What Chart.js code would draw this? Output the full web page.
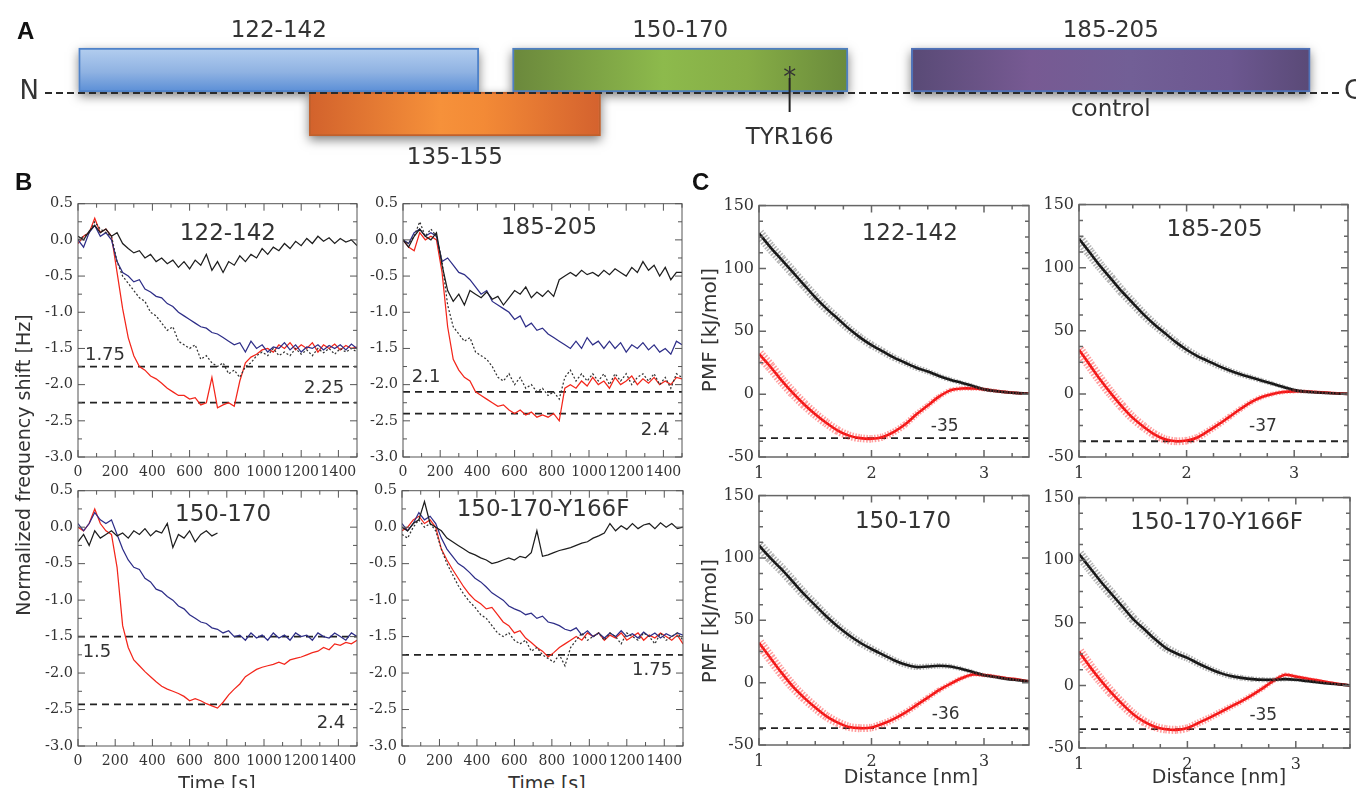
<!DOCTYPE html>
<html>
<head>
<meta charset="utf-8">
<title>Peptide segments: QCM traces and PMF profiles</title>
<script src="https://cdn.jsdelivr.net/npm/chart.js@4.4.1/dist/chart.umd.min.js"></script>
<style>
  body { margin: 0; background: #fff; }
  #fig { position: relative; width: 1356px; height: 788px; overflow: hidden; background: #fff;
         font-family: "DejaVu Sans", sans-serif; color: #333; }
  #fig canvas { position: absolute; }
  .lbl { position: absolute; white-space: nowrap; line-height: 1; z-index: 2; }
  .panel { font-family: "Liberation Sans", Arial, sans-serif; font-weight: bold; font-size: 24px; color: #111; }
  .ctr { transform: translate(-50%, -50%); }
  .rot { transform: translate(-50%, -50%) rotate(-90deg); }
</style>
</head>
<body>
<div id="fig">
  <div class="lbl panel" style="left:17px;top:19px">A</div>
  <div class="lbl panel" style="left:15px;top:170px">B</div>
  <div class="lbl panel" style="left:692px;top:170px">C</div>
  <div class="lbl rot" style="left:23px;top:465px;font-size:19px">Normalized frequency shift [Hz]</div>
  <div class="lbl rot" style="left:709px;top:330px;font-size:20px">PMF [kJ/mol]</div>
  <div class="lbl rot" style="left:709px;top:621px;font-size:20px">PMF [kJ/mol]</div>
  <div class="lbl ctr" style="left:217px;top:783px;font-size:19px">Time [s]</div>
  <div class="lbl ctr" style="left:547px;top:783px;font-size:19px">Time [s]</div>
  <div class="lbl ctr" style="left:911px;top:776px;font-size:19px">Distance [nm]</div>
  <div class="lbl ctr" style="left:1219px;top:776px;font-size:19px">Distance [nm]</div>
</div>
<script>
// ---------- panel A: peptide segments on the sequence track (schematic, % of track) ----------
const segNames = ['122-142', '135-155', '150-170', '185-205'];
const segRow = ['top', 'bottom', 'top', 'top'];
const segStart = [2.6, 20.4, 36.1, 66.9];
const segEnd = [33.5, 42.9, 62.0, 97.7];
const segNote = ['', '', '', 'control'];
const tyrPos = 57.5;
const rows = ['top', 'bottom'];

// ---------- panel B: normalized frequency shift [Hz] vs time [s] ----------
const tB = [0, 30, 60, 90, 120, 150, 180, 210, 240, 270, 300, 330, 360, 390, 420, 450, 480, 510, 540, 570,
  600, 630, 660, 690, 720, 750, 780, 810, 840, 870, 900, 930, 960, 990, 1020, 1050, 1080, 1110, 1140, 1170,
  1200, 1230, 1260, 1290, 1320, 1350, 1380, 1410, 1440, 1470, 1500];

// 122-142
const b1Black = [0.05, 0.0, 0.12, 0.2, 0.1, 0.15, 0.05, 0.1, -0.05, -0.12,
  -0.18, -0.15, -0.25, -0.2, -0.3, -0.25, -0.33, -0.28, -0.38, -0.3,
  -0.4, -0.28, -0.35, -0.2, -0.42, -0.3, -0.45, -0.3, -0.35, -0.22,
  -0.3, -0.2, -0.25, -0.12, -0.2, -0.1, -0.15, -0.05, -0.12, -0.02,
  -0.08, 0.02, -0.05, 0.05, -0.02, 0.03, -0.05, 0.02, -0.03, 0.0,
  -0.08];
const b1Blue = [0.0, -0.1, 0.1, 0.2, 0.05, 0.1, 0.0, -0.3, -0.45, -0.5,
  -0.58, -0.55, -0.68, -0.72, -0.78, -0.8, -0.88, -0.92, -1.0, -1.05,
  -1.1, -1.15, -1.2, -1.22, -1.28, -1.3, -1.35, -1.4, -1.45, -1.42,
  -1.55, -1.4, -1.5, -1.45, -1.55, -1.48, -1.5, -1.42, -1.52, -1.45,
  -1.55, -1.48, -1.5, -1.45, -1.52, -1.46, -1.5, -1.45, -1.52, -1.44,
  -1.5];
const b1Red = [-0.05, 0.05, 0.1, 0.3, 0.1, 0.15, 0.05, -0.45, -0.95, -1.35,
  -1.6, -1.75, -1.8, -1.88, -1.92, -1.98, -2.05, -2.1, -2.15, -2.15,
  -2.2, -2.18, -2.28, -2.25, -1.9, -2.32, -2.28, -2.25, -2.3, -1.95,
  -1.7, -1.62, -1.58, -1.52, -1.5, -1.55, -1.45, -1.5, -1.42, -1.52,
  -1.45, -1.5, -1.42, -1.55, -1.45, -1.5, -1.44, -1.52, -1.46, -1.5,
  -1.48];
const b1Dots = [0.0, 0.05, 0.1, 0.25, 0.15, 0.1, 0.05, -0.3, -0.5, -0.6,
  -0.7, -0.8, -0.85, -1.0, -1.05, -1.15, -1.25, -1.2, -1.4, -1.45,
  -1.5, -1.45, -1.65, -1.6, -1.7, -1.75, -1.7, -1.85, -1.8, -1.9,
  -1.75, -1.7, -1.6, -1.55, -1.6, -1.5, -1.6, -1.55, -1.6, -1.5,
  -1.58, -1.52, -1.6, -1.5, -1.56, -1.5, -1.58, -1.5, -1.55, -1.5,
  -1.55];
const b1Levels = [-1.75, -2.25];

// 185-205
const b2Black = [0.0, -0.1, 0.05, 0.15, 0.05, 0.0, 0.1, -0.35, -0.7, -0.85,
  -0.75, -0.9, -0.7, -0.75, -0.8, -0.72, -0.82, -0.78, -0.9, -0.8,
  -0.7, -0.75, -0.65, -0.8, -0.72, -0.78, -0.7, -0.78, -0.55, -0.5,
  -0.45, -0.5, -0.42, -0.48, -0.45, -0.5, -0.42, -0.48, -0.4, -0.45,
  -0.5, -0.38, -0.45, -0.3, -0.42, -0.35, -0.5, -0.38, -0.55, -0.45,
  -0.45];
const b2Blue = [0.0, -0.05, 0.1, 0.15, 0.05, 0.1, 0.05, -0.3, -0.25, -0.35,
  -0.45, -0.48, -0.55, -0.65, -0.75, -0.7, -0.85, -0.9, -0.95, -1.0,
  -1.1, -1.05, -1.2, -1.15, -1.25, -1.22, -1.3, -1.35, -1.4, -1.45,
  -1.5, -1.4, -1.5, -1.35, -1.45, -1.4, -1.5, -1.4, -1.5, -1.42,
  -1.55, -1.45, -1.5, -1.42, -1.52, -1.45, -1.55, -1.5, -1.58, -1.4,
  -1.45];
const b2Red = [0.0, -0.1, -0.15, 0.1, 0.0, 0.05, 0.0, -0.45, -1.2, -1.65,
  -1.8, -1.9, -1.95, -2.1, -2.15, -2.2, -2.25, -2.3, -2.28, -2.35,
  -2.4, -2.35, -2.42, -2.38, -2.45, -2.42, -2.45, -2.4, -2.5, -2.05,
  -2.0, -2.05, -1.95, -2.02, -1.9, -2.0, -1.95, -2.05, -1.9, -2.0,
  -1.95, -1.88, -2.0, -1.92, -1.98, -1.9, -2.0, -1.95, -2.0, -1.9,
  -1.92];
const b2Dots = [0.0, -0.05, 0.05, 0.25, 0.05, 0.15, 0.05, -0.3, -0.9, -1.2,
  -1.3, -1.4, -1.35, -1.55, -1.6, -1.65, -1.75, -1.9, -1.95, -1.85,
  -2.0, -1.9, -2.05, -2.0, -2.1, -2.05, -2.15, -2.1, -2.2, -1.9,
  -1.8, -1.95, -1.85, -1.95, -1.85, -1.95, -1.85, -2.0, -1.85, -1.95,
  -1.85, -2.0, -1.9, -1.85, -1.95, -1.85, -2.0, -1.9, -2.05, -1.85,
  -1.9];
const b2Levels = [-2.1, -2.4];

// 150-170 (the control trace stops at 750 s)
const b3Black = [-0.2, -0.1, -0.25, -0.05, -0.15, -0.1, -0.05, -0.12, -0.08, -0.15,
  -0.05, -0.1, -0.02, -0.12, -0.05, -0.08, 0.05, -0.28, -0.1, -0.15,
  -0.05, -0.2, -0.1, -0.05, -0.12, -0.08, null, null, null, null,
  null, null, null, null, null, null, null, null, null, null,
  null, null, null, null, null, null, null, null, null, null,
  null];
const b3Blue = [0.05, -0.05, 0.05, 0.2, 0.1, 0.05, 0.1, -0.1, -0.3, -0.45,
  -0.55, -0.58, -0.7, -0.75, -0.85, -0.88, -0.95, -1.0, -1.08, -1.12,
  -1.2, -1.25, -1.3, -1.32, -1.38, -1.4, -1.45, -1.42, -1.5, -1.48,
  -1.55, -1.45, -1.52, -1.48, -1.55, -1.45, -1.52, -1.48, -1.55, -1.45,
  -1.5, -1.48, -1.55, -1.45, -1.5, -1.52, -1.45, -1.5, -1.55, -1.45,
  -1.5];
const b3Red = [0.0, -0.05, 0.05, 0.25, 0.05, -0.05, -0.1, -0.55, -1.35, -1.65,
  -1.82, -1.9, -1.98, -2.05, -2.12, -2.18, -2.22, -2.25, -2.28, -2.32,
  -2.38, -2.35, -2.38, -2.42, -2.45, -2.48, -2.4, -2.3, -2.22, -2.15,
  -2.05, -2.0, -1.95, -1.92, -1.9, -1.88, -1.85, -1.88, -1.82, -1.8,
  -1.78, -1.75, -1.72, -1.7, -1.65, -1.68, -1.6, -1.62, -1.58, -1.6,
  -1.55];
const b3Levels = [-1.5, -2.43];

// 150-170-Y166F
const b4Black = [0.0, -0.05, 0.05, 0.1, 0.35, 0.05, 0.0, -0.05, -0.15, -0.2,
  -0.25, -0.3, -0.35, -0.38, -0.42, -0.45, -0.5, -0.48, -0.45, -0.42,
  -0.45, -0.4, -0.42, -0.35, -0.05, -0.4, -0.38, -0.35, -0.32, -0.3,
  -0.28, -0.25, -0.22, -0.2, -0.15, -0.12, -0.08, 0.05, -0.05, 0.02,
  -0.03, 0.05, -0.02, 0.03, 0.05, -0.02, 0.06, 0.0, 0.05, -0.02,
  0.0];
const b4Blue = [0.05, -0.05, 0.05, 0.2, 0.1, 0.15, 0.05, -0.15, -0.3, -0.4,
  -0.5, -0.55, -0.62, -0.7, -0.75, -0.82, -0.9, -0.95, -1.0, -1.08,
  -1.12, -1.15, -1.2, -1.18, -1.25, -1.22, -1.3, -1.32, -1.35, -1.4,
  -1.42, -1.38, -1.48, -1.42, -1.5, -1.45, -1.52, -1.45, -1.5, -1.42,
  -1.5, -1.46, -1.52, -1.44, -1.5, -1.45, -1.52, -1.46, -1.5, -1.45,
  -1.48];
const b4Red = [-0.05, 0.0, 0.1, 0.15, 0.05, 0.1, 0.0, -0.3, -0.45, -0.58,
  -0.7, -0.82, -0.92, -1.0, -1.05, -1.12, -1.1, -1.2, -1.3, -1.35,
  -1.45, -1.42, -1.52, -1.58, -1.65, -1.7, -1.78, -1.72, -1.65, -1.6,
  -1.55, -1.5, -1.55, -1.45, -1.5, -1.45, -1.55, -1.48, -1.52, -1.45,
  -1.55, -1.5, -1.45, -1.55, -1.48, -1.52, -1.45, -1.5, -1.55, -1.48,
  -1.6];
const b4Dots = [-0.1, -0.15, 0.0, 0.1, 0.0, 0.05, -0.05, -0.3, -0.5, -0.65,
  -0.8, -0.92, -1.02, -1.1, -1.2, -1.25, -1.35, -1.45, -1.5, -1.45,
  -1.55, -1.6, -1.55, -1.7, -1.65, -1.75, -1.8, -1.85, -1.75, -1.9,
  -1.65, -1.55, -1.45, -1.55, -1.5, -1.45, -1.55, -1.45, -1.5, -1.6,
  -1.45, -1.5, -1.55, -1.45, -1.5, -1.6, -1.45, -1.55, -1.5, -1.45,
  -1.55];
const b4Levels = [-1.75];

// ---------- panel C: PMF [kJ/mol] vs distance [nm] ----------
const cX = [1.0, 1.1, 1.2, 1.3, 1.4, 1.5, 1.6, 1.7, 1.8, 1.9, 2.0, 2.1, 2.2,
  2.3, 2.4, 2.5, 2.6, 2.7, 2.8, 2.9, 3.0, 3.1, 3.2, 3.3, 3.4, 3.5];
const c1Black = [128, 117, 107, 97, 87, 77, 68, 60, 52, 45, 39, 34, 29, 25, 21, 18, 14.5, 11.5, 9, 6.5, 3.8, 2.5, 1.5, 0.8, 0.3, 0];
const c1Red = [32, 22, 11, 1, -8, -16, -23, -29, -33, -35, -35.5, -34, -30, -24, -16, -9, -2, 3, 4.5, 4.5, 3.8, 2.6, 1.6, 0.9, 0.4, 0];
const c2Black = [123, 112, 101, 91, 81, 72, 63, 55, 48, 41, 35, 30, 26, 22, 18.5, 15.5, 13, 10.5, 8, 5.5, 3, 1.8, 1.2, 0.7, 0.3, 0];
const c2Red = [35, 23, 11, 0, -10, -19, -26, -32, -36, -37.5, -37, -34.5, -29.5, -24, -18, -12, -6.5, -2.5, 0, 1.5, 2, 2, 1.5, 1, 0.5, 0];
const c3Black = [110, 100, 91, 81, 71, 62, 53, 45, 38, 32, 27, 22.5, 18, 14.5, 12.5, 13, 13.5, 13, 11, 8.5, 6, 4.5, 3, 2, 1, 0];
const c3Red = [32, 20, 8, -3, -12, -20, -27, -32, -35.5, -36.5, -36, -33, -29, -24, -18, -12, -6, -1, 3.5, 6.5, 6, 5, 3.5, 2.5, 1, 0];
const c4Black = [105, 94, 83, 73, 63, 53, 45, 37, 30, 25.5, 22, 17.5, 13.5, 10, 7.5, 6, 5, 4.5, 4.5, 5, 4.5, 3.5, 2.5, 1.5, 0.8, 0];
const c4Red = [27, 15, 4, -6, -15, -23, -29, -33, -35, -35.5, -34, -30, -26, -21.5, -17, -12.5, -7.5, -2, 4, 8.5, 7, 5.5, 4, 2.5, 1, 0];
const cLevels = [-35, -37.5, -36.5, -35];

// ---------- styles ----------
const RED = '#f3261b', BLUE = '#2e2e88', BLACK = '#1e1e1e';
const segEdge = ['#4f82c8', '#c0602c', '#4f7fc0', '#4f72b8'];
const segShade = [
  ['v', [[0, '#b3ceef'], [0.55, '#8fb2e2'], [1, '#5a8ed6']]],
  ['h', [[0, '#d2622c'], [0.45, '#f6913a'], [0.6, '#f38a36'], [1, '#d4622e']]],
  ['h', [[0, '#6b883c'], [0.45, '#8dba4c'], [0.7, '#86ad46'], [1, '#6a8a3b']]],
  ['h', [[0, '#594a76'], [0.3, '#775a93'], [0.55, '#725f96'], [0.8, '#6c5790'], [1, '#5a4a77']]]
];

const fig = document.getElementById('fig');

// canvas whose plot area lands on the rectangle L,T,R,B of the figure
function mount(L, T, R, B) {
  const c = document.createElement('canvas');
  const w = R - L + 60, h = B - T + 36;
  c.width = w; c.height = h;
  Object.assign(c.style, { left: (L - 50) + 'px', top: (T - 12) + 'px', width: w + 'px', height: h + 'px' });
  fig.appendChild(c);
  return c;
}

// box around the plot with inward ticks on all four sides
const framePlugin = {
  id: 'frame',
  afterDatasetsDraw(chart, args, o) {
    const { ctx, chartArea: a, scales: { x, y } } = chart;
    const xMaj = x.ticks.map(t => t.value), yMaj = y.ticks.map(t => t.value);
    ctx.save();
    ctx.strokeStyle = o.color;
    ctx.lineWidth = o.width;
    ctx.strokeRect(a.left, a.top, a.right - a.left, a.bottom - a.top);
    ctx.beginPath();
    for (let v = x.min; v <= x.max + 1e-9; v += o.xMinor) {
      const p = x.getPixelForValue(v);
      const len = xMaj.some(m => Math.abs(m - v) < 1e-6) ? 7 : 4;
      ctx.moveTo(p, a.bottom); ctx.lineTo(p, a.bottom - len);
      ctx.moveTo(p, a.top); ctx.lineTo(p, a.top + len);
    }
    for (let v = y.min; v <= y.max + 1e-9; v += o.yMinor) {
      const p = y.getPixelForValue(v);
      const len = yMaj.some(m => Math.abs(m - v) < 1e-6) ? 7 : 4;
      ctx.moveTo(a.left, p); ctx.lineTo(a.left + len, p);
      ctx.moveTo(a.right, p); ctx.lineTo(a.right - len, p);
    }
    ctx.stroke();
    ctx.restore();
  }
};

// text placed in data coordinates
const notesPlugin = {
  id: 'notes',
  afterDatasetsDraw(chart, args, o) {
    const { ctx, scales: { x, y } } = chart;
    ctx.save();
    ctx.fillStyle = '#333';
    ctx.textAlign = 'center';
    ctx.textBaseline = 'middle';
    (o.items || []).forEach(([text, vx, vy, size]) => {
      ctx.font = size + 'px "DejaVu Sans"';
      ctx.fillText(text, x.getPixelForValue(vx), y.getPixelForValue(vy));
    });
    ctx.restore();
  }
};

function axis(min, max, step, fmt, size, isX) {
  return {
    type: 'linear', min, max,
    grid: { display: false, drawTicks: false },
    border: { display: false },
    afterFit: s => { if (isX) s.height = 24; else s.width = 50; },
    ticks: {
      stepSize: step, includeBounds: false, autoSkip: false, maxRotation: 0,
      padding: isX ? 7 : 5, color: '#333',
      font: { family: '"DejaVu Serif", serif', size }, callback: fmt
    }
  };
}

function baseOptions(xAx, yAx, frame, notes) {
  return {
    responsive: false,
    animation: false,
    layout: { padding: { top: 12, right: 10, left: 0, bottom: 0 } },
    scales: { x: xAx, y: yAx },
    plugins: { legend: { display: false }, tooltip: { enabled: false }, frame, notes: { items: notes } }
  };
}

// ---------- panel B ----------
function trace(ys, color, dash) {
  return {
    data: tB.map((t, i) => ({ x: t, y: ys[i] })),
    borderColor: color, borderWidth: 1.25, borderDash: dash || [],
    pointRadius: 0, tension: 0
  };
}
function level(v, x0, x1, w) {
  return {
    data: [{ x: x0, y: v }, { x: x1, y: v }],
    borderColor: '#222', borderWidth: w, borderDash: [7, 5], pointRadius: 0
  };
}
function bPanel(rect, traces, levels, notes) {
  new Chart(mount(...rect), {
    type: 'line',
    data: { datasets: traces.concat(levels.map(v => level(v, 0, 1500, 1.8))) },
    options: baseOptions(
      axis(0, 1500, 200, v => v, 14, true),
      axis(-3, 0.5, 0.5, v => v.toFixed(1), 14.5, false),
      { color: '#555', width: 1, xMinor: 100, yMinor: 0.25 },
      notes),
    plugins: [framePlugin, notesPlugin]
  });
}

bPanel([78, 202, 357, 457],
  [trace(b1Black, BLACK), trace(b1Dots, '#333', [2, 2]), trace(b1Blue, BLUE), trace(b1Red, RED)],
  b1Levels, [['122-142', 806, 0.075, 23], ['1.75', 145, -1.6, 18], ['2.25', 1323, -2.05, 18]]);
bPanel([403, 202, 682, 457],
  [trace(b2Black, BLACK), trace(b2Dots, '#333', [2, 2]), trace(b2Blue, BLUE), trace(b2Red, RED)],
  b2Levels, [['185-205', 785, 0.16, 23], ['2.1', 124, -1.9, 18], ['2.4', 1355, -2.63, 18]]);
bPanel([78, 489, 357, 746],
  [trace(b3Black, BLACK), trace(b3Blue, BLUE), trace(b3Red, RED)],
  b3Levels, [['150-170', 780, 0.17, 23], ['1.5', 102, -1.72, 18], ['2.4', 1360, -2.69, 18]]);
bPanel([402, 489, 683, 746],
  [trace(b4Black, BLACK), trace(b4Dots, '#333', [2, 2]), trace(b4Blue, BLUE), trace(b4Red, RED)],
  b4Levels, [['150-170-Y166F', 753, 0.24, 23], ['1.75', 1335, -1.96, 18]]);

// ---------- panel C ----------
function pmf(ys, color, w) {
  return { data: cX.map((x, i) => ({ x, y: ys[i] })), borderColor: color, borderWidth: w, pointRadius: 0, tension: 0.3 };
}
// error envelope: wide dotted stroke narrowing towards the reference distance
function envelope(ys, color) {
  return {
    data: cX.map((x, i) => ({ x, y: ys[i] })), borderColor: color, borderWidth: 8,
    borderDash: [1.5, 1.5], pointRadius: 0, tension: 0.3,
    segment: { borderWidth: c => 11 - 9 * c.p0DataIndex / (cX.length - 1) }
  };
}
function cPanel(rect, xMax, black, red, lvl, notes) {
  new Chart(mount(...rect), {
    type: 'line',
    data: {
      datasets: [
        envelope(black, 'rgba(60,60,60,0.4)'), envelope(red, 'rgba(255,60,60,0.5)'),
        pmf(black, '#111', 2.6), pmf(red, '#f01010', 2.6),
        level(lvl, 1, 3.5, 1.8)
      ]
    },
    options: baseOptions(
      axis(1, xMax, 1, v => v, 16, true),
      axis(-50, 150, 50, v => v, 16, false),
      { color: '#666', width: 1.5, xMinor: 0.25, yMinor: 12.5 },
      notes),
    plugins: [framePlugin, notesPlugin]
  });
}

cPanel([759, 203, 1029, 457], 3.4, c1Black, c1Red, cLevels[0], [['122-142', 2.34, 127, 23], ['-35', 2.65, -26, 17]]);
cPanel([1079, 202, 1348, 457], 3.5, c2Black, c2Red, cLevels[1], [['185-205', 2.26, 130, 23], ['-37', 2.71, -25.7, 17]]);
cPanel([759, 493, 1029, 745], 3.4, c3Black, c3Red, cLevels[2], [['150-170', 2.28, 129, 23], ['-36', 2.66, -26, 17]]);
cPanel([1079, 495, 1350, 748], 3.5, c4Black, c4Red, cLevels[3], [['150-170-Y166F', 2.27, 130, 23], ['-35', 2.7, -24, 17]]);

// ---------- panel A ----------
function segFill(c, i) {
  const { chart } = c;
  const { x, y } = chart.scales;
  const a = chart.chartArea;
  const stops = segShade[i][1];
  if (!a || !x || !y) return stops[1][1];
  let g;
  if (segShade[i][0] === 'v') {
    const yc = y.getPixelForValue(rows.indexOf(segRow[i]));
    const hb = (a.bottom - a.top) / 4;
    g = chart.ctx.createLinearGradient(0, yc - hb, 0, yc + hb);
  } else {
    g = chart.ctx.createLinearGradient(x.getPixelForValue(segStart[i]), 0, x.getPixelForValue(segEnd[i]), 0);
  }
  stops.forEach(([o, col]) => g.addColorStop(o, col));
  return g;
}

// soft drop shadow behind every bar (bar elements clip their own drawing)
const shadowPlugin = {
  id: 'shadow',
  beforeDatasetsDraw(chart) {
    const ctx = chart.ctx;
    ctx.save();
    ctx.shadowColor = 'rgba(0,0,0,0.5)';
    ctx.shadowBlur = 10;
    ctx.shadowOffsetY = 4;
    ctx.fillStyle = '#fff';
    chart.data.datasets.forEach((d, i) => {
      chart.getDatasetMeta(i).data.forEach(el => {
        const { x, y, base, height } = el.getProps(['x', 'y', 'base', 'height']);
        if (![x, y, base, height].every(Number.isFinite)) return;
        ctx.fillRect(Math.min(x, base), y - height / 2, Math.abs(x - base), height);
      });
    });
    ctx.restore();
  }
};

const trackPlugin = {
  id: 'track',
  afterDatasetsDraw(chart) {
    const { ctx, chartArea: a, scales: { x } } = chart;
    const mid = (a.top + a.bottom) / 2;
    ctx.save();
    ctx.strokeStyle = '#2a2a2a';
    ctx.lineWidth = 2;
    ctx.setLineDash([7, 4]);
    ctx.beginPath(); ctx.moveTo(a.left, mid + 1); ctx.lineTo(a.right, mid + 1); ctx.stroke();
    ctx.setLineDash([]);
    ctx.fillStyle = '#333';
    ctx.textBaseline = 'middle';
    ctx.font = '26px "DejaVu Sans"';
    ctx.textAlign = 'right'; ctx.fillText('N', a.left - 6, mid);
    ctx.textAlign = 'left'; ctx.fillText('C', a.right + 4, mid);
    ctx.textAlign = 'center';
    ctx.font = '23px "DejaVu Sans"';
    segNames.forEach((name, i) => {
      const cx = (x.getPixelForValue(segStart[i]) + x.getPixelForValue(segEnd[i])) / 2;
      ctx.fillText(name, cx, segRow[i] === 'top' ? a.top - 17 : a.bottom + 22);
      if (segNote[i]) ctx.fillText(segNote[i], cx, mid + 18);
    });
    const tx = x.getPixelForValue(tyrPos);
    ctx.fillText('TYR166', tx, a.bottom + 2);
    ctx.textBaseline = 'alphabetic';
    ctx.font = '26px "DejaVu Sans"';
    ctx.fillText('*', tx, a.top + 38);
    ctx.strokeStyle = '#222';
    ctx.lineWidth = 2;
    ctx.beginPath(); ctx.moveTo(tx, a.top + 30); ctx.lineTo(tx, mid + 20); ctx.stroke();
    ctx.restore();
  }
};

const canvasA = document.createElement('canvas');
canvasA.width = 1356; canvasA.height = 170;
Object.assign(canvasA.style, { left: '0px', top: '0px', width: '1356px', height: '170px' });
fig.appendChild(canvasA);

new Chart(canvasA, {
  type: 'bar',
  data: {
    labels: rows,
    datasets: segNames.map((name, i) => ({
      label: name,
      data: rows.map(r => (r === segRow[i] ? [segStart[i], segEnd[i]] : null)),
      backgroundColor: c => segFill(c, i),
      borderColor: segEdge[i],
      borderWidth: 2,
      borderSkipped: false,
      barPercentage: 1,
      categoryPercentage: 1,
      grouped: false,
      clip: false
    }))
  },
  options: {
    indexAxis: 'y',
    responsive: false,
    animation: false,
    layout: { padding: { left: 45, right: 16, top: 48, bottom: 34 } },
    scales: { x: { display: false, min: 0, max: 100 }, y: { display: false } },
    plugins: { legend: { display: false }, tooltip: { enabled: false } }
  },
  plugins: [shadowPlugin, trackPlugin]
});
</script>
</body>
</html>
